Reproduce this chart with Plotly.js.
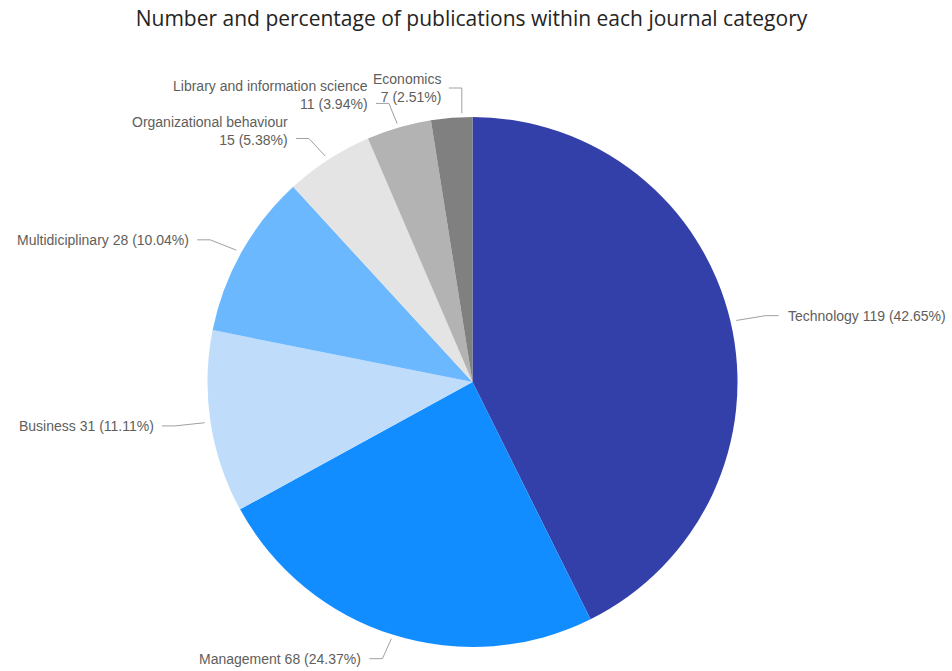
<!DOCTYPE html>
<html>
<head>
<meta charset="utf-8">
<script src="https://cdn.plot.ly/plotly-3.0.1.min.js"></script>
<style>html,body{margin:0;padding:0;background:#fff;}#chart{width:952px;height:671px;}</style>
</head>
<body>
<div id="chart"></div>
<script>
const categories = ["Technology", "Management", "Business", "Multidiciplinary", "Organizational behaviour", "Library and information science", "Economics"];
const counts = [119, 68, 31, 28, 15, 11, 7];
const percentLabels = ["42.65%", "24.37%", "11.11%", "10.04%", "5.38%", "3.94%", "2.51%"];
const colors = ["#3340A9", "#118DFF", "#BFDCFA", "#6CB8FF", "#E4E4E4", "#B3B3B3", "#808080"];
const twoLine = [false, false, false, false, true, true, true];

const W = 952, H = 671;
const CX = 472.5, CY = 382, R = 265;

const total = counts.reduce((a, b) => a + b, 0);
const annotations = [];
const shapes = [];
let cum = 0;
const px = x => x / W;
const py = y => 1 - y / H;
counts.forEach((v, i) => {
  const midFrac = (cum + v / 2) / total;
  const mid = midFrac * 2 * Math.PI;
  const s0 = Math.sin(mid), c0 = Math.cos(mid);
  const nearTop = Math.abs(s0) < 0.12 && c0 > 0;
  // leader for a slice next to 12 o'clock rises straight up from late in the slice
  const a = nearTop ? (cum + v * 0.75) / total * 2 * Math.PI : mid;
  cum += v;
  const s = Math.sin(a), c = Math.cos(a);
  const x1 = CX + (R + 6) * s, y1 = CY - (R + 4) * c;
  const x2 = nearTop ? x1 : CX + (R + 36) * s;
  const y2 = nearTop ? CY - (R + 29) : CY - (R + 25) * c;
  const right = s0 >= 0;
  const x3 = x2 + (right ? 13 : -13);
  shapes.push({type: 'path', xref: 'paper', yref: 'paper',
    path: `M ${px(x1)} ${py(y1)} L ${px(x2)} ${py(y2)} L ${px(x3)} ${py(y2)}`,
    line: {color: '#a0a0a0', width: 1}});
  const txt = twoLine[i]
    ? `${categories[i]}<br>${counts[i]} (${percentLabels[i]})`
    : `${categories[i]} ${counts[i]} (${percentLabels[i]})`;
  // two-line labels: second line sits on the leader, except the top one which is centred
  const yLab = (twoLine[i] && !nearTop) ? y2 - 8 : y2;
  annotations.push({
    xref: 'paper', yref: 'paper',
    x: px(x3 + (right ? 7 : -6)), y: py(yLab),
    xanchor: right ? 'left' : 'right', yanchor: 'middle',
    align: right ? 'left' : 'right',
    showarrow: false, text: txt,
    font: {family: 'Liberation Sans, Arial, sans-serif', size: 14, color: '#605E5C'}
  });
});

const trace = {
  type: 'pie',
  labels: categories,
  values: counts,
  sort: false,
  direction: 'clockwise',
  rotation: 0,
  marker: {colors: colors, line: {color: '#ffffff', width: 0}},
  textinfo: 'none',
  hoverinfo: 'none',
  domain: {x: [(CX - R) / W, (CX + R) / W], y: [1 - (CY + R) / H, 1 - (CY - R) / H]}
};

const layout = {
  width: W, height: H,
  margin: {l: 0, r: 0, t: 0, b: 0},
  paper_bgcolor: '#ffffff',
  showlegend: false,
  title: {text: 'Number and percentage of publications within each journal category',
    x: 471.5 / W, xanchor: 'center', y: 1 - 19 / H, yanchor: 'middle',
    font: {family: 'Open Sans, sans-serif', size: 21, color: '#252423'}},
  annotations: annotations,
  shapes: shapes
};

Plotly.newPlot('chart', [trace], layout, {displayModeBar: false, staticPlot: true});
</script>
</body>
</html>
